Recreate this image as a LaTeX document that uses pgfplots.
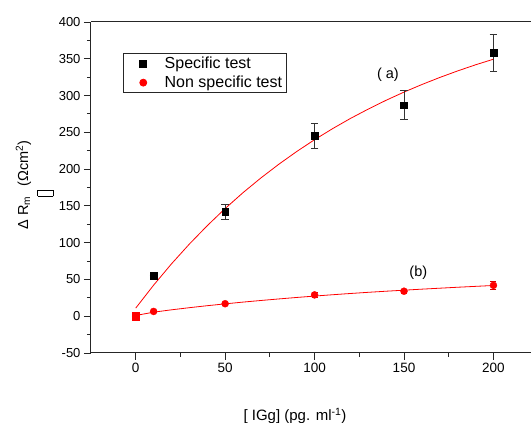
\documentclass[border=0pt]{standalone}
\usepackage{pgfplots}
\pgfplotsset{compat=1.18}
\usepackage{fontspec}
\setmainfont{Liberation Sans}

\newcommand{\glyphbox}{{\setlength{\fboxsep}{0pt}\setlength{\fboxrule}{0.6pt}\fbox{\rule{0pt}{15pt}\hspace{5pt}}}}

\begin{document}
\begin{tikzpicture}
\begin{axis}[
    scale only axis,
    width=440pt,
    height=331pt,
    xmin=-25, xmax=221,
    ymin=-50, ymax=400,
    axis x line*=box,
    axis y line*=left,
    xtick={0,50,100,150,200},
    xticklabels={0,50,100,150,200},
    ytick={-50,0,50,100,150,200,250,300,350,400},
    yticklabels={-50,0,50,100,150,200,250,300,350,400},
    xtick pos=left,
    minor x tick num=1,
    minor y tick num=1,
    tick align=outside,
    major tick length=7pt,
    minor tick length=4pt,
    every tick/.style={black!85, line width=0.9pt},
    axis line style={black!85, line width=1pt},
    x tick label style={font=\fontsize{13.5}{14}\selectfont},
    y tick label style={font=\fontsize{13}{14}\selectfont},
    xlabel={[ IGg] (pg. ml\textsuperscript{-1})},
    xlabel style={font=\fontsize{15}{16}\selectfont, at={(axis description cs:0.4636,-0.19)}, anchor=center},
    ylabel={Δ R\textsubscript{m}\raisebox{-25pt}{\glyphbox} (Ωcm\textsuperscript{2})},
    ylabel style={font=\fontsize{14.5}{16}\selectfont, at={(axis description cs:-0.143,0.508)}, anchor=base, rotate=0},
    legend cell align=left,
    legend image code/.code={
        \path (0pt,0pt) (36pt,0pt);
        \draw[#1] plot coordinates {(16.5pt,0pt)};
    },
    legend style={
        at={(axis description cs:0.0727,0.906)},
        anchor=north west,
        draw=black!85,
        line width=0.8pt,
        font=\fontsize{16}{16}\selectfont,
        inner xsep=3pt,
        inner ysep=2pt,
        row sep=3pt,
        nodes={inner sep=1.5pt}
    }
]
% fit (a)
\addplot[red, line width=0.8pt, forget plot] coordinates {
    (0,11.0) (10,42.2) (20,71.2) (30,98.1) (40,123.1) (50,146.4) (60,168.0)
    (70,188.0) (80,206.6) (90,223.9) (100,240.0) (110,254.9) (120,268.8)
    (130,281.6) (140,293.6) (150,304.7) (160,315.0) (170,324.6) (180,333.5)
    (190,341.8) (200,349.4)
};
% fit (b)
\addplot[red, line width=0.8pt, forget plot] coordinates {
    (0,1.0) (10,5.5) (20,8.7) (30,11.6) (40,14.3) (50,16.8) (60,19.2)
    (70,21.4) (80,23.5) (90,25.5) (100,27.4) (110,29.2) (120,30.9)
    (130,32.5) (140,34.0) (150,35.4) (160,36.8) (170,38.1) (180,39.4)
    (190,40.6) (200,41.8)
};
\addplot[black, only marks, mark=square*, mark size=3.4pt,
    error bars/.cd, y dir=both, y explicit,
    error bar style={black!80, line width=0.7pt},
    error mark options={rotate=90, mark size=3.7pt, line width=0.7pt, black!80}]
coordinates {
    (10,55) +- (0,0)
    (50,142) +- (0,10)
    (100,245) +- (0,17)
    (150,287) +- (0,20)
    (200,358) +- (0,25)
};
\addplot[red, only marks, mark=*, mark size=3.5pt,
    error bars/.cd, y dir=both, y explicit,
    error bar style={red!85!black, line width=0.7pt},
    error mark options={rotate=90, mark size=3pt, line width=0.7pt, red!85!black}]
coordinates {
    (0,0) +- (0,0)
    (10,6.5) +- (0,1)
    (50,17) +- (0,2)
    (100,29) +- (0,3)
    (150,34) +- (0,3)
    (200,42) +- (0,5)
};
\addplot[red, only marks, mark=square*, mark size=3.8pt, forget plot] coordinates {(0,0)};
\legend{Specific test, Non specific test}
\node[font=\fontsize{14.5}{15}\selectfont] at (axis cs:141,328.5) {( a)};
\node[font=\fontsize{14.5}{15}\selectfont] at (axis cs:158,59.7) {(b)};
\end{axis}
\pgfresetboundingbox
\path (current axis.south west) ++(-91pt,-70pt) rectangle ++(531pt,423pt);
\end{tikzpicture}
\end{document}
